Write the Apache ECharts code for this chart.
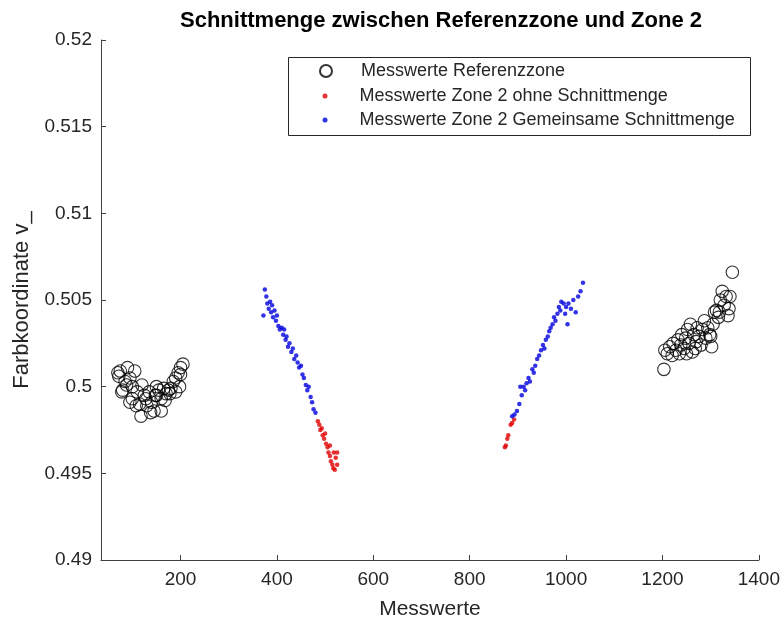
<!DOCTYPE html>
<html>
<head>
<meta charset="utf-8">
<script src="https://cdn.jsdelivr.net/npm/echarts@6/dist/echarts.min.js"></script>
<style>html,body{margin:0;padding:0;background:#fff;}#c{width:783px;height:625px;}</style>
</head>
<body>
<div id="c"></div>
<script>
// Referenzzone (black open circles)
const refX = [70,75,80,85,90,95,100,100,105,110,115,118,120,125,130,135,140,145,150,150,155,160,160,165,170,175,178,180,185,190,195,200,205,200,190,88,78,95,108,128,138,148,168,198,72,
  1203,1205,1210,1215,1220,1222,1228,1232,1238,1240,1245,1248,1252,1255,1258,1262,1265,1270,1272,1276,1280,1283,1287,1290,1294,1298,1302,1305,1308,1312,1316,1320,1324,1328,1332,1336,1338,1340,1345,1268,1250,1235,1318,1300];
const refY = [0.5008,0.5009,0.4998,0.5003,0.5011,0.5005,0.5000,0.4993,0.5009,0.4997,0.4990,0.4983,0.5001,0.4995,0.4989,0.4997,0.4991,0.4986,0.4995,0.5000,0.4998,0.4993,0.4986,0.4999,0.4996,0.4998,0.4996,0.4999,0.5003,0.5005,0.5008,0.5007,0.5013,0.5011,0.4997,0.5001,0.4997,0.4991,0.4989,0.4993,0.4985,0.4995,0.4992,0.5000,0.5006,
  0.5010,0.5021,0.5019,0.5023,0.5018,0.5025,0.5021,0.5027,0.5024,0.5030,0.5022,0.5028,0.5033,0.5025,0.5036,0.5020,0.5030,0.5026,0.5034,0.5029,0.5024,0.5033,0.5038,0.5028,0.5034,0.5030,0.5023,0.5036,0.5043,0.5044,0.5040,0.5050,0.5055,0.5047,0.5052,0.5041,0.5045,0.5052,0.5066,0.5022,0.5019,0.5019,0.5043,0.5029];

// Zone 2 ohne Schnittmenge (red dots)
const redX = [485,488,490,493,495,498,500,502,505,507,510,512,515,517,520,522,525,518,510,525,
  873,875,878,880,885,888,892];
const redY = [0.4980,0.4978,0.4975,0.4976,0.4972,0.4970,0.4973,0.4967,0.4965,0.4962,0.4960,0.4957,0.4955,0.4953,0.4952,0.4959,0.4955,0.4962,0.4966,0.4962,
  0.4965,0.4966,0.4970,0.4972,0.4978,0.4979,0.4981];

// Zone 2 Gemeinsame Schnittmenge (blue dots)
const blueX = [372,375,378,380,383,386,388,390,392,395,398,400,403,406,410,413,415,418,420,423,426,430,433,436,440,443,446,450,453,456,460,463,466,470,473,476,480,
  888,893,898,903,905,908,912,915,918,922,925,930,933,936,940,944,948,952,955,958,962,965,968,972,975,978,982,985,988,990,995,998,1000,1003,1005,1010,1015,1020,1025,1030,1035];
const blueY = [0.5041,0.5056,0.5052,0.5048,0.5045,0.5049,0.5043,0.5047,0.5040,0.5044,0.5038,0.5041,0.5035,0.5033,0.5034,0.5030,0.5033,0.5027,0.5029,0.5023,0.5025,0.5020,0.5022,0.5016,0.5018,0.5014,0.5011,0.5012,0.5007,0.5005,0.5001,0.4998,0.5000,0.4994,0.4991,0.4987,0.4985,
  0.4983,0.4984,0.4986,0.4990,0.5000,0.4995,0.5000,0.4998,0.5002,0.5005,0.5003,0.5010,0.5008,0.5012,0.5016,0.5018,0.5021,0.5024,0.5022,0.5027,0.5029,0.5032,0.5034,0.5036,0.5040,0.5038,0.5042,0.5046,0.5044,0.5049,0.5048,0.5042,0.5046,0.5036,0.5048,0.5045,0.5050,0.5043,0.5052,0.5055,0.5060];

const xTicks = [200,400,600,800,1000,1200,1400];
const names = ['Messwerte Referenzzone','Messwerte Zone 2 ohne Schnittmenge','Messwerte Zone 2 Gemeinsame Schnittmenge'];

const zip = (a,b) => a.map((v,i)=>[v,b[i]]);
const FONT = '"Liberation Sans", Arial, Helvetica, sans-serif';
const TXT = '#262626';
const AX = '#404040';

const chart = echarts.init(document.getElementById('c'), null, {renderer:'canvas'});
const legendBase = (i, top, size, pad) => ({
  data: [names[i]], left: 325 - size / 2, top: top, orient: 'vertical',
  itemWidth: size, itemHeight: size, itemGap: 0, padding: 0, selectedMode: false,
  textStyle: {fontFamily: FONT, fontSize: 18, color: TXT, padding: [0,0,0,pad]}
});
chart.setOption({
  animation: false,
  title: {
    text: 'Schnittmenge zwischen Referenzzone und Zone 2',
    left: 436, top: 5, textAlign: 'center',
    textStyle: {fontFamily: FONT, fontSize: 22, fontWeight: 'bold', color: '#000'}
  },
  grid: {left: 101, right: 19, top: 40, bottom: 62, containLabel: false},
  legend: [legendBase(0, 62, 12, 24), legendBase(1, 87, 5, 27), legendBase(2, 111, 5, 27)],
  graphic: [{
    type: 'rect', shape: {x: 288.5, y: 57.5, width: 462, height: 78},
    style: {fill: 'none', stroke: '#262626', lineWidth: 1}, silent: true, z: 1
  }],
  xAxis: {
    type: 'value', min: 35, max: 1400,
    name: 'Messwerte', nameLocation: 'middle', nameGap: 39,
    nameTextStyle: {fontFamily: FONT, fontSize: 21, color: TXT},
    axisLine: {show: true, lineStyle: {color: AX, width: 1}},
    axisTick: {show: true, inside: true, length: 5, customValues: xTicks, lineStyle: {color: AX}},
    axisLabel: {customValues: xTicks, formatter: v => String(v), fontFamily: FONT, fontSize: 19, color: TXT, margin: 10},
    splitLine: {show: false}
  },
  yAxis: {
    type: 'value', min: 0.49, max: 0.52, interval: 0.005,
    name: 'Farbkoordinate v_', nameLocation: 'middle', nameGap: 68,
    nameTextStyle: {fontFamily: FONT, fontSize: 22, color: TXT},
    axisLine: {show: true, lineStyle: {color: AX, width: 1}},
    axisTick: {show: true, inside: true, length: 5, lineStyle: {color: AX}},
    axisLabel: {formatter: v => String(+v.toFixed(3)), fontFamily: FONT, fontSize: 19, color: TXT, margin: 9},
    splitLine: {show: false}
  },
  series: [
    {name: names[0], type: 'scatter', data: zip(refX, refY), symbol: 'circle', symbolSize: 12.5,
     itemStyle: {color: 'rgba(0,0,0,0)', borderColor: '#000', borderWidth: 1.1}},
    {name: names[1], type: 'scatter', data: zip(redX, redY), symbol: 'circle', symbolSize: 4.5,
     itemStyle: {color: '#e00000'}},
    {name: names[2], type: 'scatter', data: zip(blueX, blueY), symbol: 'circle', symbolSize: 4.5,
     itemStyle: {color: '#0000e0'}}
  ]
});
</script>
</body>
</html>
